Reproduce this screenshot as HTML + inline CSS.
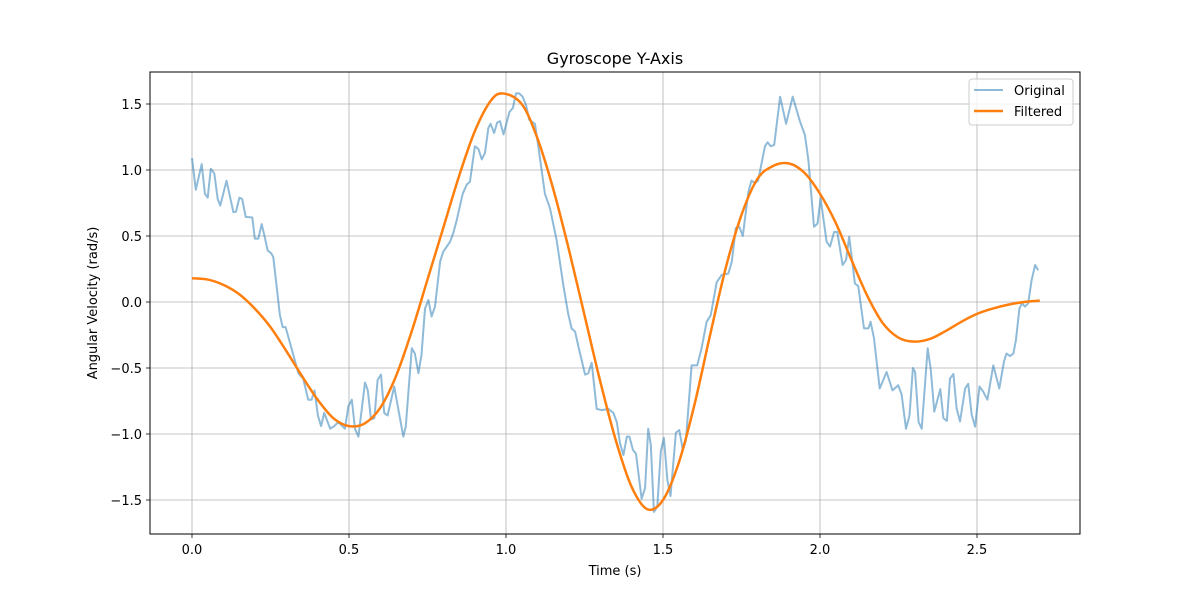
<!DOCTYPE html>
<html><head><meta charset="utf-8">
<style>
body{margin:0;background:#fff;}
svg text{font-family:"DejaVu Sans","Liberation Sans",sans-serif;fill:#000;}
</style></head>
<body>
<svg id="chart" width="1200" height="600" viewBox="0 0 1200 600" xmlns="http://www.w3.org/2000/svg">
<rect width="1200" height="600" fill="#fff"/>
<g id="grid"></g>
<g id="series"></g>
<rect x="150" y="72" width="930" height="462" fill="none" stroke="#000" stroke-width="1"/>
<g id="ticks"></g>
<text x="615" y="64" font-size="16" text-anchor="middle">Gyroscope Y-Axis</text>
<text x="615" y="575" font-size="13" text-anchor="middle">Time (s)</text>
<text x="0" y="0" font-size="13" text-anchor="middle" transform="translate(97,303) rotate(-90)">Angular Velocity (rad/s)</text>
<g>
<rect x="969" y="79" width="104" height="46" rx="3" fill="#fff" fill-opacity="0.8" stroke="#ccc"/>
<line x1="974" y1="90" x2="1003" y2="90" stroke="#1f77b4" stroke-opacity="0.5" stroke-width="2"/>
<text x="1014" y="95" font-size="13">Original</text>
<line x1="974" y1="111" x2="1003" y2="111" stroke="#ff7f0e" stroke-width="2.5"/>
<text x="1014" y="116" font-size="13">Filtered</text>
</g>
</svg>
<script>
const xTicks=[0,0.5,1.0,1.5,2.0,2.5];
const xTickLabels=["0.0","0.5","1.0","1.5","2.0","2.5"];
const yTicks=[-1.5,-1.0,-0.5,0,0.5,1.0,1.5];
const yTickLabels=["−1.5","−1.0","−0.5","0.0","0.5","1.0","1.5"];
const origT=[0,0.012,0.031,0.041,0.05,0.06,0.071,0.082,0.09,0.11,0.132,0.14,0.151,0.16,0.171,0.192,0.2,0.211,0.222,0.23,0.241,0.252,0.259,0.28,0.289,0.298,0.339,0.354,0.37,0.381,0.39,0.401,0.411,0.421,0.44,0.453,0.466,0.487,0.498,0.509,0.519,0.53,0.551,0.56,0.57,0.581,0.591,0.602,0.612,0.623,0.644,0.673,0.681,0.70,0.71,0.721,0.731,0.742,0.753,0.763,0.774,0.79,0.80,0.822,0.832,0.843,0.862,0.875,0.885,0.901,0.912,0.923,0.933,0.944,0.951,0.962,0.972,0.981,0.992,1.011,1.022,1.032,1.042,1.053,1.064,1.074,1.092,1.103,1.124,1.14,1.161,1.183,1.198,1.209,1.22,1.23,1.252,1.262,1.273,1.289,1.305,1.326,1.342,1.353,1.363,1.374,1.385,1.393,1.404,1.414,1.432,1.443,1.453,1.461,1.471,1.482,1.493,1.503,1.514,1.524,1.541,1.552,1.563,1.573,1.591,1.609,1.623,1.639,1.652,1.671,1.687,1.708,1.719,1.732,1.743,1.754,1.772,1.782,1.793,1.803,1.825,1.833,1.843,1.854,1.873,1.892,1.913,1.926,1.936,1.952,1.963,1.981,1.992,2.002,2.021,2.032,2.045,2.055,2.072,2.083,2.093,2.111,2.122,2.14,2.154,2.161,2.172,2.19,2.212,2.231,2.249,2.26,2.274,2.285,2.296,2.303,2.314,2.324,2.343,2.353,2.364,2.383,2.393,2.404,2.414,2.425,2.435,2.446,2.462,2.472,2.483,2.494,2.508,2.52,2.533,2.552,2.571,2.586,2.594,2.605,2.616,2.624,2.635,2.643,2.653,2.663,2.674,2.685,2.695];
const origV=[1.09,0.85,1.045,0.82,0.79,1.01,0.975,0.78,0.73,0.92,0.68,0.685,0.79,0.78,0.645,0.64,0.48,0.48,0.59,0.51,0.39,0.37,0.34,-0.10,-0.19,-0.19,-0.54,-0.58,-0.74,-0.74,-0.67,-0.86,-0.94,-0.84,-0.96,-0.94,-0.91,-0.96,-0.79,-0.74,-0.96,-1.02,-0.61,-0.67,-0.89,-0.88,-0.59,-0.55,-0.84,-0.86,-0.64,-1.02,-0.94,-0.35,-0.39,-0.54,-0.40,-0.05,0.015,-0.11,-0.035,0.305,0.38,0.457,0.52,0.62,0.82,0.89,0.91,1.18,1.16,1.08,1.13,1.32,1.35,1.28,1.36,1.37,1.27,1.44,1.47,1.58,1.58,1.555,1.49,1.38,1.35,1.18,0.82,0.71,0.47,0.12,-0.09,-0.2,-0.225,-0.33,-0.55,-0.54,-0.46,-0.81,-0.82,-0.81,-0.84,-0.91,-1.07,-1.16,-1.02,-1.02,-1.12,-1.15,-1.49,-1.41,-0.96,-1.08,-1.59,-1.55,-1.13,-1.03,-1.35,-1.47,-0.99,-0.97,-1.12,-1.05,-0.48,-0.48,-0.35,-0.15,-0.1,0.15,0.205,0.215,0.305,0.56,0.57,0.5,0.835,0.92,0.90,0.92,1.18,1.21,1.18,1.19,1.555,1.35,1.555,1.45,1.37,1.265,1.075,0.57,0.595,0.785,0.457,0.42,0.53,0.53,0.28,0.32,0.495,0.14,0.12,-0.2,-0.2,-0.15,-0.275,-0.655,-0.53,-0.67,-0.63,-0.70,-0.96,-0.86,-0.50,-0.53,-0.91,-0.96,-0.35,-0.515,-0.83,-0.66,-0.88,-0.90,-0.58,-0.545,-0.805,-0.905,-0.655,-0.62,-0.855,-0.945,-0.64,-0.68,-0.74,-0.48,-0.655,-0.45,-0.39,-0.41,-0.39,-0.29,-0.05,-0.01,-0.035,-0.01,0.165,0.28,0.24];
const filtT=[0,0.05,0.1,0.15,0.2,0.25,0.3,0.35,0.4,0.45,0.5,0.55,0.6,0.65,0.7,0.75,0.8,0.85,0.9,0.95,0.99,1.05,1.1,1.15,1.2,1.25,1.3,1.35,1.4,1.45,1.5,1.55,1.6,1.65,1.7,1.75,1.8,1.85,1.9,1.95,2.0,2.05,2.1,2.15,2.2,2.25,2.3,2.35,2.4,2.45,2.5,2.55,2.6,2.65,2.7];
const filtV=[0.18,0.17,0.13,0.06,-0.05,-0.19,-0.37,-0.56,-0.74,-0.88,-0.94,-0.92,-0.80,-0.56,-0.22,0.17,0.56,0.95,1.29,1.52,1.58,1.50,1.24,0.86,0.40,-0.10,-0.60,-1.05,-1.40,-1.57,-1.50,-1.22,-0.78,-0.25,0.26,0.66,0.93,1.03,1.05,0.98,0.82,0.60,0.32,0.05,-0.16,-0.27,-0.30,-0.28,-0.22,-0.15,-0.09,-0.05,-0.02,0.0,0.01];

const X=t=>192+t*314;
const Y=v=>302-v*132;
const NS="http://www.w3.org/2000/svg";
const grid=document.getElementById('grid'),ticks=document.getElementById('ticks'),series=document.getElementById('series');
function mk(tag,attrs,parent){const e=document.createElementNS(NS,tag);for(const k in attrs)e.setAttribute(k,attrs[k]);parent.appendChild(e);return e;}
xTicks.forEach((t,i)=>{
  const g=mk('line',{x1:X(t),x2:X(t),y1:72,y2:534,stroke:'#b0b0b0','stroke-width':0.8},grid);
  
  
  const tk=mk('line',{x1:X(t),x2:X(t),y1:534,y2:538,stroke:'#000','stroke-width':0.8},ticks);
  
  
  const tx=mk('text',{x:X(t),y:554,'font-size':13,'text-anchor':'middle'},ticks);
  tx.textContent=xTickLabels[i];
  
  
});
yTicks.forEach((v,i)=>{
  const g=mk('line',{x1:150,x2:1080,y1:Y(v),y2:Y(v),stroke:'#b0b0b0','stroke-width':0.8},grid);
  
  
  const tk=mk('line',{x1:146,x2:150,y1:Y(v),y2:Y(v),stroke:'#000','stroke-width':0.8},ticks);
  
  
  const tx=mk('text',{x:142,y:Y(v)+5,'font-size':13,'text-anchor':'end'},ticks);
  tx.textContent=yTickLabels[i];
  
  
});
const op=origT.map((t,i)=>X(t).toFixed(1)+','+Y(origV[i]).toFixed(1)).join(' ');
const ol=mk('polyline',{points:op,fill:'none',stroke:'#1f77b4','stroke-opacity':0.5,'stroke-width':2,'stroke-linejoin':'round'},series);


const P=filtT.map((t,i)=>[X(t),Y(filtV[i])]);
let d='M'+P[0][0]+','+P[0][1];
for(let i=0;i<P.length-1;i++){
  const p0=P[Math.max(0,i-1)],p1=P[i],p2=P[i+1],p3=P[Math.min(P.length-1,i+2)];
  const c1=[p1[0]+(p2[0]-p0[0])/6,p1[1]+(p2[1]-p0[1])/6];
  const c2=[p2[0]-(p3[0]-p1[0])/6,p2[1]-(p3[1]-p1[1])/6];
  d+=' C'+c1.join(',')+' '+c2.join(',')+' '+p2.join(',');
}
const fl=mk('path',{d:d,fill:'none',stroke:'#ff7f0e','stroke-width':2.5},series);


</script>
</body></html>
